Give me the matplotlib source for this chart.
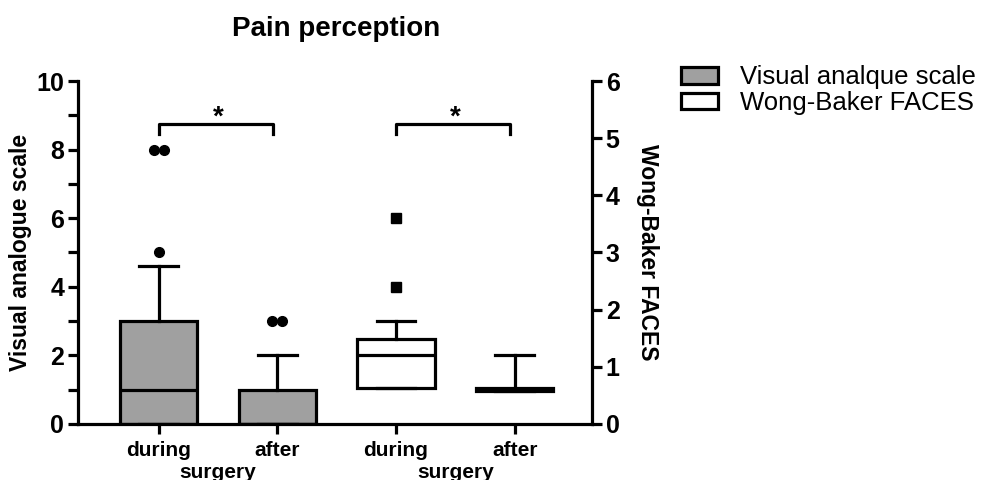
import matplotlib
matplotlib.use("Agg")
import matplotlib.pyplot as plt
from matplotlib.patches import Patch

plt.rcParams["font.family"] = ["Liberation Sans", "DejaVu Sans"]

# summary statistics
vas_labels = ["during", "after"]
vas_q1 = [0, 0]
vas_med = [1, 0]
vas_q3 = [3, 1]
vas_whishi = [4.6, 2]
vas_fliers = [[5, 8, 8], [3, 3]]

wb_labels = ["during", "after"]
wb_q1 = [0.62, 0.58]
wb_med = [1.2, 0.6]
wb_q3 = [1.48, 0.62]
wb_whishi = [1.8, 1.2]
wb_fliers = [[2.4, 3.6], []]

GRAY = "#a0a0a0"
LW = 2.3


def stats(q1, med, q3, hi):
    return [dict(med=m, q1=a, q3=b, whislo=a, whishi=h, fliers=[])
            for a, m, b, h in zip(q1, med, q3, hi)]


def draw_group(ax, st, pos, face, fliers, marker):
    ax.bxp(st, positions=pos, widths=0.65, patch_artist=True, showfliers=False,
           boxprops=dict(facecolor=face, edgecolor="black", linewidth=LW),
           medianprops=dict(color="black", linewidth=LW),
           whiskerprops=dict(color="black", linewidth=LW),
           capprops=dict(color="black", linewidth=LW))
    for p, vals in zip(pos, fliers):
        # spread duplicate values side by side
        for v in set(vals):
            n = vals.count(v)
            offs = [(k - (n - 1) / 2) * 0.085 for k in range(n)]
            ax.plot([p + o for o in offs], [v] * n, linestyle="none",
                    marker=marker, color="black", markersize=7 if marker == "o" else 6.5,
                    clip_on=False, zorder=5)


fig = plt.figure(figsize=(9.93, 4.8), dpi=100)
ax = fig.add_axes([0.0785, 0.117, 0.5175, 0.714])
ax2 = ax.twinx()

draw_group(ax, stats(vas_q1, vas_med, vas_q3, vas_whishi), [0, 1], GRAY, vas_fliers, "o")
draw_group(ax2, stats(wb_q1, wb_med, wb_q3, wb_whishi), [2, 3], "white", wb_fliers, "s")

ax.set_xlim(-0.68, 3.65)
ax.set_ylim(0, 10)
ax2.set_ylim(0, 6)
ax.set_yticks([0, 2, 4, 6, 8, 10])
ax.set_yticks([1, 3, 5, 7, 9], minor=True)
ax2.set_yticks(range(0, 7))
ax.set_xticks([0, 1, 2, 3])
ax.set_xticklabels(vas_labels + wb_labels)

for a in (ax, ax2):
    a.spines["top"].set_visible(False)
    for s in a.spines.values():
        s.set_linewidth(LW)
    a.tick_params(axis="both", which="both", width=LW, length=7, direction="out")
ax.spines["right"].set_visible(False)
ax2.spines["left"].set_visible(False)
ax2.spines["bottom"].set_visible(False)
ax.tick_params(axis="y", labelsize=18, pad=3)
ax.tick_params(axis="x", labelsize=15, pad=5)
ax2.tick_params(axis="y", labelsize=18, pad=3)
for lab in ax.get_yticklabels() + ax.get_xticklabels() + ax2.get_yticklabels():
    lab.set_fontweight("bold")

ax.set_ylabel("Visual analogue scale", fontsize=16.5, fontweight="bold", labelpad=3)
ax2.set_ylabel("Wong-Baker FACES", fontsize=16.5, fontweight="bold",
               rotation=270, labelpad=28)

# significance brackets
ax.plot([0, 0, 0.96, 0.96], [8.45, 8.75, 8.75, 8.45], color="black", lw=LW, clip_on=False)
ax.text(0.5, 8.55, "*", ha="center", va="bottom", fontsize=20, fontweight="bold")
ax2.plot([2, 2, 2.96, 2.96], [5.07, 5.25, 5.25, 5.07], color="black", lw=LW, clip_on=False)
ax2.text(2.5, 5.13, "*", ha="center", va="bottom", fontsize=20, fontweight="bold")

# group captions below the tick labels
for gx in (0.5, 2.5):
    ax.text(gx, -1.15, "surgery", transform=ax.transData, ha="center", va="top",
            fontsize=15, fontweight="bold", clip_on=False)

fig.text(0.338, 0.94, "Pain perception", ha="center", va="center",
         fontsize=20, fontweight="bold")

handles = [Patch(facecolor=GRAY, edgecolor="black", linewidth=LW, label="Visual analque scale"),
           Patch(facecolor="white", edgecolor="black", linewidth=LW, label="Wong-Baker FACES")]
fig.legend(handles=handles, loc="upper left", bbox_to_anchor=(0.675, 0.885),
           frameon=False, fontsize=18.5, handlelength=1.45, handleheight=0.6,
           handletextpad=0.85, labelspacing=0.05, borderaxespad=0)

fig.savefig("out.png", dpi=100)
